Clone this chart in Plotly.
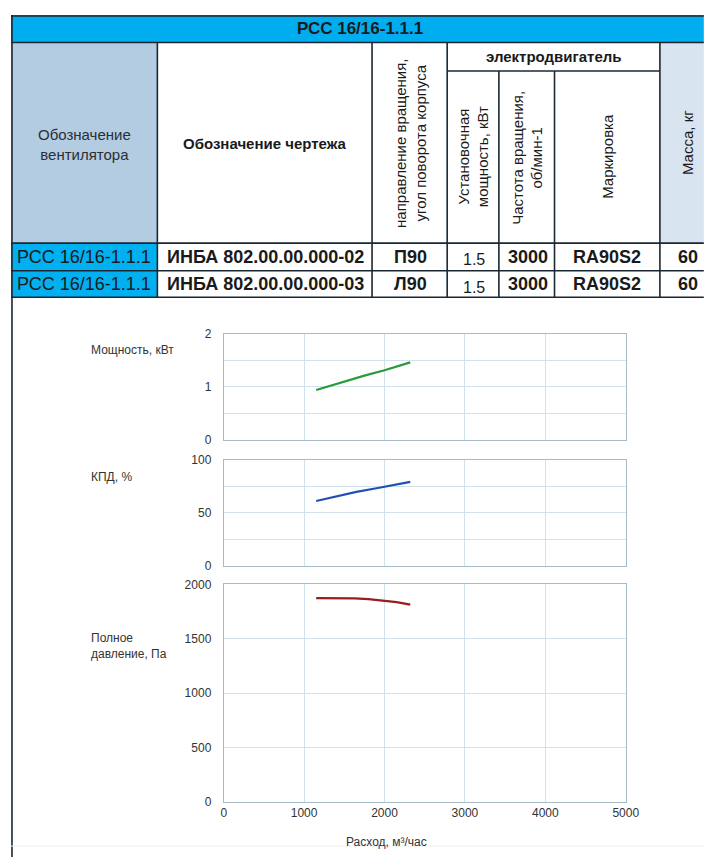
import plotly.graph_objects as go
from plotly.subplots import make_subplots

# the page adds an 8px body margin, so the figure covers 8..710 x 8..857
OFF = 8
W, H = 718 - 2 * OFF, 865 - 2 * OFF

# table content
table_title = "РСС 16/16-1.1.1"
motor_group = "электродвигатель"
header_fan = "Обозначение<br>вентилятора"
header_drawing = "Обозначение чертежа"
header_rotation = "направление вращения,<br>угол поворота корпуса"
header_power = "Установочная<br>мощность, кВт"
header_speed = "Частота вращения,<br>об/мин-1"
header_mark = "Маркировка"
header_mass = "Масса, кг"

fan_names = ["РСС 16/16-1.1.1", "РСС 16/16-1.1.1"]
drawings = ["ИНБА 802.00.00.000-02", "ИНБА 802.00.00.000-03"]
rotations = ["П90", "Л90"]
motor_power = ["1.5", "1.5"]
motor_speed = ["3000", "3000"]
motor_mark = ["RA90S2", "RA90S2"]
mass = ["60", "60"]

# performance curves
flow_power = [1150, 1300, 1500, 1750, 2000, 2150, 2320]
power_kw = [0.94, 1.01, 1.10, 1.21, 1.31, 1.38, 1.46]

flow_eff = [1150, 1400, 1650, 1900, 2100, 2320]
efficiency = [61, 65.5, 69.5, 73, 76, 79]

flow_pressure = [1150, 1400, 1625, 1800, 2000, 2150, 2320]
pressure = [1875, 1875, 1872, 1865, 1852, 1838, 1815]

x_ticks = [0, 1000, 2000, 3000, 4000, 5000]


# page pixel -> paper fraction
def px(x):
    return (x - OFF) / W


def py(y):
    return 1 - (y - OFF) / H


fig = make_subplots(rows=3, cols=1)

fig.add_trace(go.Scatter(x=flow_power, y=power_kw, mode="lines",
                         line=dict(color="#2A9A3A", width=2.2)), row=1, col=1)
fig.add_trace(go.Scatter(x=flow_eff, y=efficiency, mode="lines",
                         line=dict(color="#2150B5", width=2.2)), row=2, col=1)
fig.add_trace(go.Scatter(x=flow_pressure, y=pressure, mode="lines",
                         line=dict(color="#9A1C1C", width=2.2)), row=3, col=1)

grid = "#CFE2EE"
frame = "#A6BBC9"
tick_font = dict(family="Liberation Sans, Arial, sans-serif", size=12, color="#333333")

x_dom = [px(226), px(638)]
y_doms = [[py(440), py(332)], [py(568), py(460)], [py(808), py(587)]]

for i in range(3):
    n = "" if i == 0 else str(i + 1)
    fig.layout["xaxis" + n].update(
        domain=x_dom, range=[0, 5000], tickvals=x_ticks,
        showticklabels=(i == 2), showgrid=True, gridcolor=grid, gridwidth=1,
        showline=True, linecolor=frame, mirror=True, zeroline=False,
        tickfont=tick_font, ticks="",
    )
    fig.layout["xaxis" + n].anchor = "y" + n
    fig.layout["yaxis" + n].update(domain=y_doms[i], anchor="x" + n)

fig.update_yaxes(row=1, col=1, range=[0, 2], dtick=1,
                 minor=dict(dtick=0.5, showgrid=True, gridcolor=grid))
fig.update_yaxes(row=2, col=1, range=[0, 100], dtick=50,
                 minor=dict(dtick=25, showgrid=True, gridcolor=grid))
fig.update_yaxes(row=3, col=1, range=[0, 2000], dtick=500)
fig.update_yaxes(showgrid=True, gridcolor=grid, gridwidth=1, showline=True,
                 linecolor=frame, mirror=True, zeroline=False,
                 tickfont=tick_font, ticks="", ticklabelstandoff=9)

shapes = []


def rect(x0, y0, x1, y1, color):
    shapes.append(dict(type="rect", xref="paper", yref="paper",
                       x0=px(x0), x1=px(x1), y0=py(y1), y1=py(y0),
                       fillcolor=color, line=dict(width=0), layer="below"))


def line(x0, y0, x1, y1, color="#1B2833", width=1.6):
    shapes.append(dict(type="line", xref="paper", yref="paper",
                       x0=px(x0), x1=px(x1), y0=py(y0), y1=py(y1),
                       line=dict(color=color, width=width)))


# cell fills
rect(8, 8, 718, 36, "#00ADEF")
rect(8, 36, 158, 240, "#B3CCE2")
rect(673, 36, 718, 240, "#D8E4EF")
rect(8, 240, 158, 295, "#00B0F0")

# grid of the table
for y in [9, 36, 240, 268, 295]:
    line(8, y, 718, y)
line(455, 65, 673, 65)
line(9, 8, 9, 865)
for x in [158, 378, 455, 673]:
    line(x, 36, x, 295)
for x in [508, 565]:
    line(x, 65, x, 295)
line(8, 853, 718, 853, color="#F4ECEC", width=1)

fig.update_layout(shapes=shapes)

table_font = "Liberation Sans, Arial, sans-serif"
text_col = "#1A1A1A"


def note(x, y, text, size, bold=False, angle=0, align="center", xanchor="center",
         family=table_font, color=text_col):
    if bold:
        text = "<b>" + text + "</b>"
    fig.add_annotation(x=px(x), y=py(y), xref="paper", yref="paper", text=text,
                       showarrow=False, textangle=angle, align=align,
                       xanchor=xanchor, yanchor="middle",
                       font=dict(family=family, size=size, color=color))


note(366, 22, table_title, 17, bold=True)
note(83, 140, header_fan, 15, color="#2A2F36")
note(268, 139, header_drawing, 15, bold=True)
note(418, 139, header_rotation, 15, angle=-90)
note(564, 50, motor_group, 15, bold=True)
note(482, 152, header_power, 15, angle=-90)
note(537, 153, header_speed, 15, angle=-90)
note(619, 152, header_mark, 15, angle=-90)
note(702, 138, header_mass, 15, angle=-90)

row_y = [254, 282]
for i in range(2):
    y = row_y[i]
    note(83, y, fan_names[i], 18)
    note(269, y, drawings[i], 18, bold=True)
    note(417, y, rotations[i], 18, bold=True)
    note(482, y + 3, motor_power[i], 16)
    note(538, y, motor_speed[i], 18, bold=True)
    note(619, y, motor_mark[i], 18, bold=True)
    note(702, y, mass[i], 18, bold=True)

# chart axis labels
label_col = "#333333"
note(88, 349, "Мощность, кВт", 12, align="left", xanchor="left", color=label_col)
note(88, 478, "КПД, %", 12, align="left", xanchor="left", color=label_col)
note(88, 650, "Полное<br>давление, Па", 12, align="left", xanchor="left", color=label_col)
note(393, 849, "Расход, м³/час", 12, color=label_col)

fig.update_layout(
    width=W, height=H,
    margin=dict(l=0, r=0, t=0, b=0),
    paper_bgcolor="white",
    plot_bgcolor="white",
    showlegend=False,
)

fig.write_html("out.html", config={"displayModeBar": False})
